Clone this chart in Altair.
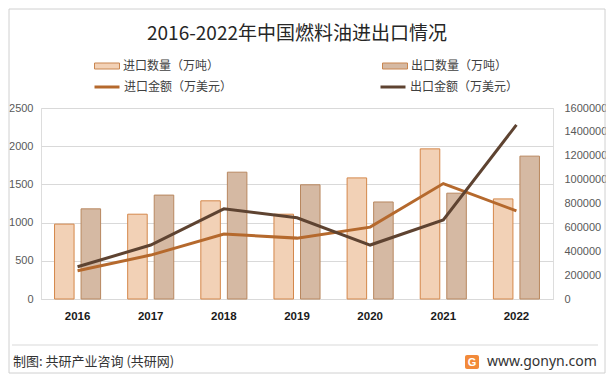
import altair as alt
import pandas as pd

years = ["2016", "2017", "2018", "2019", "2020", "2021", "2022"]
import_qty = [980, 1110, 1285, 1110, 1585, 1965, 1310]
export_qty = [1180, 1360, 1660, 1495, 1270, 1385, 1870]
import_amt = [237000, 368000, 544000, 510000, 602000, 967000, 738000]
export_amt = [270000, 452000, 755000, 680000, 452000, 663000, 1458000]

bar_series = ["进口数量（万吨）", "出口数量（万吨）"]
line_series = ["进口金额（万美元）", "出口金额（万美元）"]
title_text = "2016-2022年中国燃料油进出口情况"
footer_left = "制图: 共研产业咨询 (共研网)"
footer_right = "www.gonyn.com"

left_ticks = [0, 500, 1000, 1500, 2000, 2500]
right_ticks = [0, 200000, 400000, 600000, 800000, 1000000, 1200000, 1400000, 1600000]

bar_df = pd.DataFrame(
    [{"year": y, "series": bar_series[0], "value": v} for y, v in zip(years, import_qty)]
    + [{"year": y, "series": bar_series[1], "value": v} for y, v in zip(years, export_qty)]
)
line_df = pd.DataFrame(
    [{"year": y, "series2": line_series[0], "amt": v} for y, v in zip(years, import_amt)]
    + [{"year": y, "series2": line_series[1], "amt": v} for y, v in zip(years, export_amt)]
)

CJK = "Noto Sans CJK SC"
NUM = "Liberation Sans"

x_enc = alt.X(
    "year:N",
    sort=years,
    scale=alt.Scale(paddingInner=0, paddingOuter=0),
    axis=alt.Axis(
        title=None, labelAngle=0, ticks=False, domain=True, domainColor="#D9D9D9",
        grid=False, labelFont=NUM, labelFontSize=11.5, labelFontWeight="bold",
        labelColor="#1a1a1a", labelPadding=11,
    ),
)

bars = alt.Chart(bar_df).mark_bar(strokeWidth=1).encode(
    x=x_enc,
    xOffset=alt.XOffset(
        "series:N", sort=bar_series,
        scale=alt.Scale(domain=bar_series, paddingInner=0.264, paddingOuter=0.51),
    ),
    y=alt.Y(
        "value:Q",
        scale=alt.Scale(domain=[0, 2500], nice=False),
        axis=alt.Axis(
            title=None, orient="left", values=left_ticks, format="d", grid=True,
            gridColor="#D9D9D9", domain=False, ticks=False, labelFont=NUM,
            labelFontSize=11, labelColor="#595959", labelPadding=8,
        ),
    ),
    fill=alt.Fill(
        "series:N",
        scale=alt.Scale(domain=bar_series, range=["#F2D1B6", "#D5B9A3"]),
        legend=alt.Legend(
            title=None, orient="none", legendX=53, legendY=-55, direction="horizontal",
            columns=2, columnPadding=160, symbolType="M-1,-0.24H1V0.24H-1Z",
            symbolSize=625, symbolStrokeColor="#C98650", symbolStrokeWidth=1,
            labelFont=CJK, labelFontSize=12, labelColor="#404040", labelOffset=3,
            padding=0, labelLimit=300,
        ),
    ),
    stroke=alt.condition(
        alt.datum.series == bar_series[0], alt.value("#D4874A"), alt.value("#B8875F")
    ),
)

lines = alt.Chart(line_df).mark_line(strokeWidth=3).encode(
    x=alt.X("year:N", sort=years),
    y=alt.Y(
        "amt:Q",
        scale=alt.Scale(domain=[0, 1600000], nice=False),
        axis=alt.Axis(
            title=None, orient="right", values=right_ticks, format="d", grid=False,
            domain=False, ticks=False, labelFont=NUM, labelFontSize=11,
            labelColor="#595959", labelPadding=11,
        ),
    ),
    stroke=alt.Stroke(
        "series2:N",
        scale=alt.Scale(domain=line_series, range=["#B5692D", "#5E4331"]),
        legend=alt.Legend(
            title=None, orient="none", legendX=52, legendY=-35, direction="horizontal",
            columns=2, columnPadding=141, symbolType="stroke", symbolSize=625,
            symbolStrokeWidth=3, labelFont=CJK, labelFontSize=12, labelColor="#404040",
            labelOffset=3, padding=0, labelLimit=300,
        ),
    ),
)

one = pd.DataFrame({"a": [1]})

frame = alt.Chart(one).mark_rect(fillOpacity=0, stroke="#D0D0D0", strokeWidth=1).encode(
    x=alt.value(-32), x2=alt.value(564), y=alt.value(-99), y2=alt.value(265)
)
sep = alt.Chart(one).mark_rule(color="#D9D9D9", strokeWidth=1).encode(
    x=alt.value(-29), x2=alt.value(557), y=alt.value(237)
)
foot_l = alt.Chart(pd.DataFrame({"t": [footer_left]})).mark_text(
    align="left", baseline="middle", font=CJK, fontSize=13, color="#333333"
).encode(x=alt.value(-28), y=alt.value(254), text="t:N")
logo = alt.Chart(one).mark_rect(fill="#F28A3A", cornerRadius=2).encode(
    x=alt.value(424), x2=alt.value(438), y=alt.value(247), y2=alt.value(261)
)
logo_g = alt.Chart(pd.DataFrame({"t": ["G"]})).mark_text(
    align="center", baseline="middle", font=NUM, fontSize=11, fontWeight="bold", color="white"
).encode(x=alt.value(431), y=alt.value(254.5), text="t:N")
foot_r = alt.Chart(pd.DataFrame({"t": [footer_right]})).mark_text(
    align="left", baseline="middle", font="Noto Sans", fontSize=14, color="#333333"
).encode(x=alt.value(446), y=alt.value(254), text="t:N")

chart = (
    alt.layer(bars, lines, frame, sep, foot_l, logo, logo_g, foot_r)
    .resolve_scale(y="independent")
    .properties(
        width=512,
        height=191,
        title=alt.TitleParams(
            title_text, font=CJK, fontSize=19, fontWeight="normal", color="#262626",
            anchor="middle", offset=-35,
        ),
        autosize=alt.AutoSizeParams(type="none"),
        padding={"left": 33, "top": 100, "right": 53, "bottom": 76},
    )
    .configure_view(stroke=None)
    .configure(background="white")
)

chart.save("out.html", embed_options={"renderer": "svg", "actions": False})
